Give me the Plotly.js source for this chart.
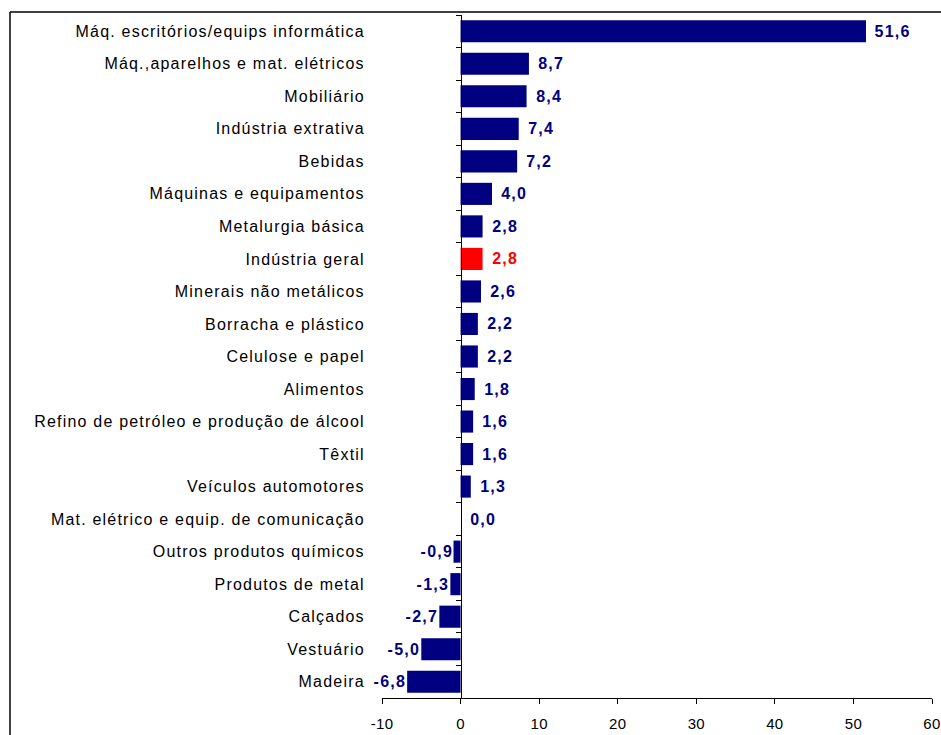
<!DOCTYPE html>
<html>
<head>
<meta charset="utf-8">
<script src="https://cdn.plot.ly/plotly-3.0.1.min.js"></script>
<style>
html,body{margin:0;padding:0;background:#fff;}
#chart{width:941px;height:735px;}
#chart g.ytick text{letter-spacing:1.2px;}
#chart g.annotation text{letter-spacing:1.2px;}
#chart g.xtick text{letter-spacing:0.3px;}
</style>
</head>
<body>
<div id="chart"></div>
<script>
const categories = ['Máq. escritórios/equips informática','Máq.,aparelhos e mat. elétricos','Mobiliário','Indústria extrativa','Bebidas','Máquinas e equipamentos','Metalurgia básica','Indústria geral','Minerais não metálicos','Borracha e plástico','Celulose e papel','Alimentos','Refino de petróleo e produção de álcool','Têxtil','Veículos automotores','Mat. elétrico e equip. de comunicação','Outros produtos químicos','Produtos de metal','Calçados','Vestuário','Madeira'];
const values = [51.6,8.7,8.4,7.4,7.2,4.0,2.8,2.8,2.6,2.2,2.2,1.8,1.6,1.6,1.3,0.0,-0.9,-1.3,-2.7,-5.0,-6.8];
const highlight = 'Indústria geral';
const xTicks = [-10,0,10,20,30,40,50,60];

const NAVY = '#000080', RED = '#FF0000';
const colors = categories.map(c => c === highlight ? RED : NAVY);
const idx = categories.map((c,i)=>i);

const trace = {
  type: 'bar', orientation: 'h',
  x: values, y: idx,
  marker: {color: colors, line: {width: 0}},
  width: 0.68,
  hoverinfo: 'none'
};

const annotations = values.map((v,i)=>({
  x: v, y: i, xref: 'x', yref: 'y',
  text: '<b>' + v.toFixed(1).replace('.', ',') + '</b>',
  showarrow: false,
  xanchor: v < 0 ? 'right' : 'left',
  xshift: v < 0 ? -1 : 9,
  font: {family: 'Liberation Sans, Arial, sans-serif', size: 16, color: colors[i]}
}));

const boundaries = [];
for (let k = 0; k <= categories.length; k++) boundaries.push(k - 0.5);

const layout = {
  width: 941, height: 735,
  margin: {l: 382, r: 9, t: 15, b: 37},
  paper_bgcolor: '#fff', plot_bgcolor: '#fff',
  showlegend: false,
  font: {family: 'Liberation Sans, Arial, sans-serif', color: '#000'},
  xaxis: {
    range: [-10, 60], tickvals: xTicks, ticktext: xTicks.map(String),
    showgrid: false, zeroline: false,
    showline: true, linecolor: '#000', linewidth: 1,
    ticks: 'outside', ticklen: 5, tickcolor: '#000', tickwidth: 1,
    ticklabelstandoff: 7,
    tickfont: {size: 15, color: '#000'}, fixedrange: true
  },
  yaxis: {
    range: [categories.length - 0.5, -0.5],
    tickvals: idx, ticktext: categories,
    showgrid: false, zeroline: false, showline: false,
    ticks: 'outside', ticklen: 13, tickcolor: 'rgba(0,0,0,0)',
    tickfont: {size: 16, color: '#000'}, fixedrange: true
  },
  yaxis2: {
    overlaying: 'y', anchor: 'free', side: 'left',
    position: 10/70,
    range: [categories.length - 0.5, -0.5],
    tickvals: boundaries, showticklabels: false,
    showgrid: false, zeroline: false,
    showline: true, linecolor: '#000', linewidth: 1,
    ticks: 'outside', ticklen: 5, tickcolor: '#000', tickwidth: 1,
    fixedrange: true
  },
  annotations: annotations,
  shapes: [
    {type: 'line', xref: 'paper', yref: 'paper', x0: (10-382)/550, x1: 1.05, y0: 1 + 3/683, y1: 1 + 3/683, line: {color: '#000', width: 1.5}},
    {type: 'line', xref: 'paper', yref: 'paper', x0: (10-382)/550, x1: (10-382)/550, y0: 1 + 3/683, y1: -0.1, line: {color: '#000', width: 1.5}}
  ]
};

const dummy = {type: 'scatter', x: [0], y: [0], yaxis: 'y2', mode: 'markers', marker: {opacity: 0}, hoverinfo: 'none'};

Plotly.newPlot('chart', [trace, dummy], layout, {displayModeBar: false, staticPlot: true});
</script>
</body>
</html>
